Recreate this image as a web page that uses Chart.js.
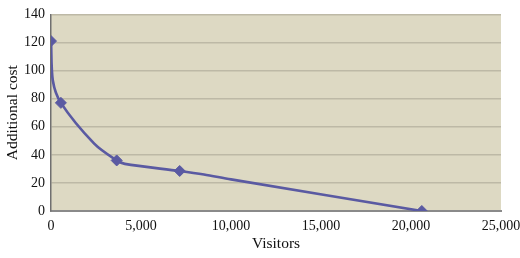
<!DOCTYPE html>
<html>
<head>
<meta charset="utf-8">
<script src="https://cdn.jsdelivr.net/npm/chart.js@4"></script>
<style>
html,body{margin:0;padding:0;background:#fff;}
#wrap{width:520px;height:258px;position:relative;}
</style>
</head>
<body>
<div id="wrap"><canvas id="c" width="520" height="258"></canvas></div>
<script>
// Curve points (visitors, additional cost)
const curveVisitors = [0, 100, 550, 2400, 3650, 4100, 7150, 8500, 10000, 20600];
const curveCost     = [121, 93, 77, 48, 36, 33.5, 28.5, 26, 22.5, 0];
// Marked points
const markerVisitors = [0, 550, 3650, 7150, 20600];
const markerCost     = [121, 77, 36, 28.5, 0];
// Axis ticks
const xTicks = [0, 5000, 10000, 15000, 20000, 25000];
const yTicks = [0, 20, 40, 60, 80, 100, 120, 140];
const xTitle = 'Visitors';
const yTitle = 'Additional cost';

const lineColor = '#5A5AA2';
const serif = "'Liberation Serif', 'DejaVu Serif', serif";

const bgPlugin = {
  id: 'plotBg',
  beforeDraw(chart) {
    const {ctx, chartArea: a} = chart;
    ctx.save();
    ctx.fillStyle = '#DDD9C3';
    ctx.fillRect(a.left, a.top, a.right - a.left, a.bottom - a.top);
    ctx.restore();
  }
};

new Chart(document.getElementById('c'), {
  type: 'scatter',
  data: {
    datasets: [
      {
        data: curveVisitors.map((x, i) => ({x, y: curveCost[i]})),
        showLine: true,
        borderColor: lineColor,
        borderWidth: 2.7,
        pointRadius: 0,
        tension: 0.3,
        fill: false
      },
      {
        data: markerVisitors.map((x, i) => ({x, y: markerCost[i]})),
        showLine: false,
        pointStyle: 'rectRot',
        pointRadius: 5.5,
        backgroundColor: lineColor,
        borderColor: lineColor,
        borderWidth: 1
      }
    ]
  },
  options: {
    responsive: false,
    animation: false,
    layout: {padding: {top: 8, right: 0, left: 0, bottom: 0}},
    plugins: {legend: {display: false}, tooltip: {enabled: false}},
    scales: {
      x: {
        type: 'linear',
        min: 0, max: 25000,
        afterBuildTicks(s) { s.ticks = xTicks.map(v => ({value: v})); },
        afterFit(s) { s.height = 47; s.paddingRight = 19; s.paddingLeft = 0; },
        grid: {display: false, drawTicks: false},
        border: {display: true, color: '#8A8A8A', width: 2},
        ticks: {
          color: '#111', padding: 7, maxRotation: 0, autoSkip: false,
          font: {family: serif, size: 14},
          callback: v => v.toLocaleString('en-US')
        },
        title: {display: true, text: xTitle, color: '#111', font: {family: serif, size: 15.5}, padding: {top: 4, bottom: 5}}
      },
      y: {
        type: 'linear',
        min: 0, max: 140,
        afterBuildTicks(s) { s.ticks = yTicks.map(v => ({value: v})); },
        afterFit(s) { s.width = 51; },
        grid: {display: true, color: '#BDB9A6', lineWidth: 1.5, drawTicks: false},
        border: {display: true, color: '#707070', width: 1.5},
        ticks: {color: '#111', padding: 6, font: {family: serif, size: 14}},
        title: {display: true, text: yTitle, color: '#111', font: {family: serif, size: 15.5}, padding: {top: 4, bottom: 2}}
      }
    }
  },
  plugins: [bgPlugin]
});
</script>
</body>
</html>
